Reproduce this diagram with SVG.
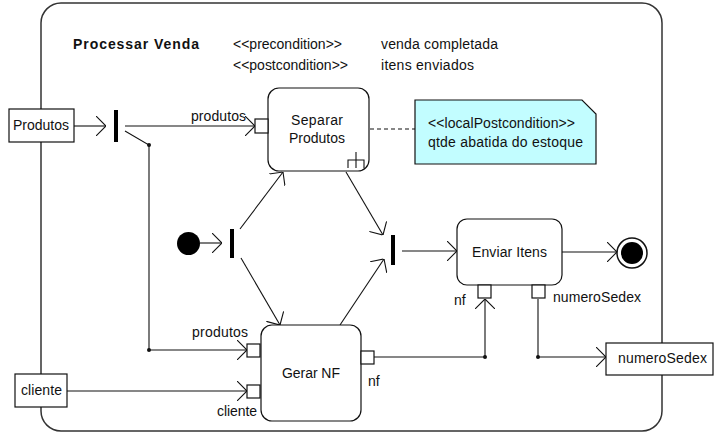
<svg xmlns="http://www.w3.org/2000/svg" width="714" height="435" viewBox="0 0 714 435">
<defs>
<style>
text{font-family:"Liberation Sans",Arial,sans-serif;font-size:14px;fill:#111}
.b{font-weight:bold}
.box{fill:#fff;stroke:#111;stroke-width:1.2}
.port{fill:#fff;stroke:#111;stroke-width:1.2}
.ln{fill:none;stroke:#111;stroke-width:1.1}
.bar{fill:#000}
</style>
<marker id="ar" viewBox="0 0 10 20" refX="10" refY="10" markerWidth="10" markerHeight="20" markerUnits="userSpaceOnUse" orient="auto">
<path d="M0,0 L10,10 L0,20" fill="none" stroke="#111" stroke-width="1.1"/>
</marker>
</defs>
<rect width="714" height="435" fill="#fff"/>
<g id="frame">
<rect x="41" y="3" width="621" height="428" rx="20" fill="none" stroke="#333" stroke-width="1.5"/>
<text class="b" x="73" y="49" textLength="126" lengthAdjust="spacing">Processar Venda</text>
<text x="233" y="49" textLength="109" lengthAdjust="spacing">&lt;&lt;precondition&gt;&gt;</text>
<text x="233" y="70" textLength="115" lengthAdjust="spacing">&lt;&lt;postcondition&gt;&gt;</text>
<text x="381" y="49" textLength="117" lengthAdjust="spacing">venda completada</text>
<text x="381" y="70" textLength="93" lengthAdjust="spacing">itens enviados</text>
</g>
<g id="connectors">
<line class="ln" x1="74" y1="126" x2="106" y2="126" marker-end="url(#ar)"/>
<line class="ln" x1="125" y1="126" x2="255" y2="126" marker-end="url(#ar)"/>
<polyline class="ln" points="125,131 149,145 149,350 247,350" marker-end="url(#ar)"/>
<circle cx="149" cy="145" r="2" fill="#111"/>
<circle cx="149" cy="350" r="2" fill="#111"/>
<line class="ln" x1="67" y1="391" x2="247" y2="391" marker-end="url(#ar)"/>
<line class="ln" x1="200" y1="243" x2="222" y2="243" marker-end="url(#ar)"/>
<line class="ln" x1="240" y1="229" x2="283" y2="172" marker-end="url(#ar)"/>
<line class="ln" x1="241" y1="258" x2="280" y2="325" marker-end="url(#ar)"/>
<line class="ln" x1="346" y1="172" x2="383" y2="235" marker-end="url(#ar)"/>
<line class="ln" x1="340" y1="325" x2="384" y2="259" marker-end="url(#ar)"/>
<line class="ln" x1="402" y1="251" x2="457" y2="251" marker-end="url(#ar)"/>
<line class="ln" x1="562" y1="252" x2="617" y2="252" marker-end="url(#ar)"/>
<polyline class="ln" points="374,357 485,357 485,299" marker-end="url(#ar)"/>
<circle cx="485" cy="357" r="2" fill="#111"/>
<polyline class="ln" points="538,299 538,357 606,357" marker-end="url(#ar)"/>
<circle cx="538" cy="357" r="2" fill="#111"/>
<line class="ln" x1="370" y1="129" x2="415" y2="129" stroke-dasharray="4,3"/>
<text x="191" y="121" textLength="55" lengthAdjust="spacing">produtos</text>
<text x="192" y="337" textLength="56" lengthAdjust="spacing">produtos</text>
<text x="217" y="416" textLength="40" lengthAdjust="spacing">cliente</text>
<text x="368" y="386">nf</text>
<text x="454" y="305">nf</text>
<text x="553" y="302" textLength="88" lengthAdjust="spacing">numeroSedex</text>
</g>
<g id="produtos-in">
<rect class="box" x="9" y="109" width="65" height="33"/>
<text x="13" y="130" textLength="56" lengthAdjust="spacing">Produtos</text>
</g>
<g id="cliente-in">
<rect class="box" x="15" y="374" width="52" height="33"/>
<text x="21" y="395" textLength="41" lengthAdjust="spacing">cliente</text>
</g>
<g id="fork1">
<rect class="bar" x="114" y="110" width="4" height="32"/>
</g>
<g id="initial">
<circle cx="188.5" cy="243.5" r="11.5" fill="#000"/>
</g>
<g id="fork2">
<rect class="bar" x="230" y="229" width="4" height="29"/>
</g>
<g id="join">
<rect class="bar" x="391" y="235" width="4" height="30"/>
</g>
<g id="separar">
<rect class="box" x="268" y="88" width="101" height="83" rx="11"/>
<rect class="port" x="255" y="119" width="13" height="14"/>
<text x="291" y="125" textLength="52" lengthAdjust="spacing">Separar</text>
<text x="289" y="143" textLength="56" lengthAdjust="spacing">Produtos</text>
<path class="ln" d="M348,168 V160 H364 V168 M356,152 V168"/>
</g>
<g id="note">
<path d="M415,100 H582 L596,114 V164 H415 Z" fill="#c2fdff" stroke="#111" stroke-width="1.2"/>
<text x="428" y="128" textLength="147" lengthAdjust="spacing">&lt;&lt;localPostcondition&gt;&gt;</text>
<text x="428" y="147" textLength="155" lengthAdjust="spacing">qtde abatida do estoque</text>
</g>
<g id="gerar">
<rect class="box" x="261" y="325" width="100" height="96" rx="11"/>
<rect class="port" x="247" y="344" width="13" height="13"/>
<rect class="port" x="247" y="385" width="13" height="13"/>
<rect class="port" x="361" y="351" width="13" height="13"/>
<text x="282" y="378" textLength="58" lengthAdjust="spacing">Gerar NF</text>
</g>
<g id="enviar">
<rect class="box" x="457" y="219" width="105" height="66" rx="10"/>
<rect class="port" x="478" y="285" width="13" height="13"/>
<rect class="port" x="532" y="285" width="13" height="13"/>
<text x="472" y="257" textLength="75" lengthAdjust="spacing">Enviar Itens</text>
</g>
<g id="final">
<circle cx="632" cy="253" r="15" fill="#fff" stroke="#111" stroke-width="1.5"/>
<circle cx="632" cy="253" r="11" fill="#000"/>
</g>
<g id="numeroSedex-out">
<rect class="box" x="606" y="343" width="107" height="32"/>
<text x="618" y="363" textLength="89" lengthAdjust="spacing">numeroSedex</text>
</g>
</svg>
